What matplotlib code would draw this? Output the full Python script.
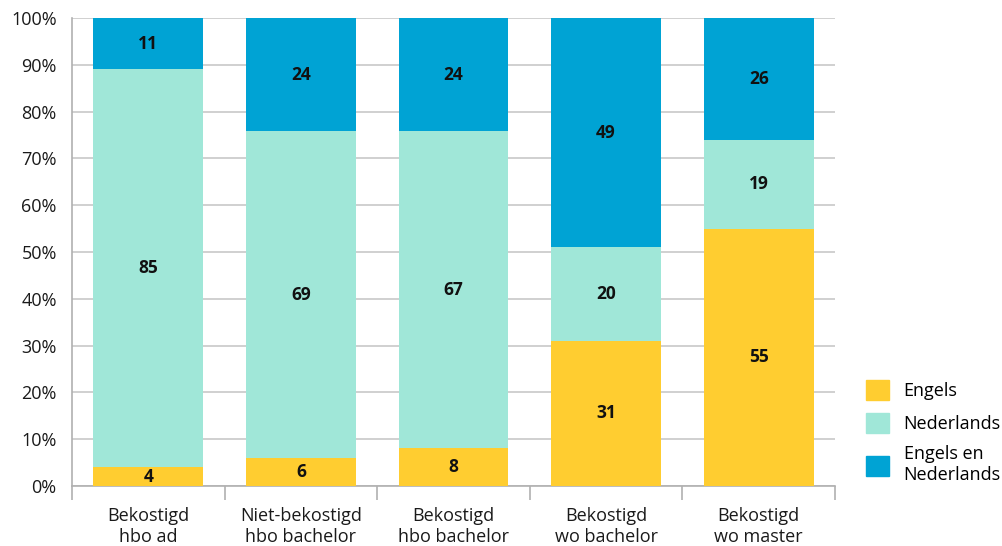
import numpy as np
import matplotlib.pyplot as plt
from matplotlib.patches import Patch

plt.rcParams['font.family'] = ['Open Sans', 'DejaVu Sans']

# data
categories = ['Bekostigd\nhbo ad', 'Niet-bekostigd\nhbo bachelor', 'Bekostigd\nhbo bachelor',
              'Bekostigd\nwo bachelor', 'Bekostigd\nwo master']
engels = np.array([4, 6, 8, 31, 55])
nederlands = np.array([85, 69, 67, 20, 19])
beide = np.array([11, 24, 24, 49, 26])
series_names = ['Engels', 'Nederlands', 'Engels en\nNederlands']
colors = ['#FFCD30', '#A0E7D8', '#00A3D4']

totals = engels + nederlands + beide
series = [engels, nederlands, beide]

fig = plt.figure(figsize=(10.03, 5.46), dpi=100)
ax = fig.add_axes([0.0718, 0.1099, 0.7607, 0.8571])

x = np.arange(len(categories))
bottom = np.zeros(len(categories))
for vals, col in zip(series, colors):
    h = vals / totals * 100
    ax.bar(x, h, bottom=bottom, width=0.72, color=col, zorder=3)
    for xi, b, hh, v in zip(x, bottom, h, vals):
        ax.text(xi, b + hh / 2, str(v), ha='center', va='center',
                fontsize=12.5, fontweight='bold', color='#111111', zorder=4)
    bottom += h

ax.set_xlim(-0.5, len(categories) - 0.5)
ax.set_ylim(0, 100)
ax.set_yticks(np.arange(0, 101, 10))
ax.set_yticklabels([f'{v}%' for v in range(0, 101, 10)], fontsize=13, color='#1a1a1a')
ax.yaxis.grid(True, color='#c8c8c8', linewidth=1.2, zorder=0)
ax.tick_params(axis='y', length=0, pad=11)

ax.set_xticks(x)
ax.set_xticklabels(categories, fontsize=13, color='#1a1a1a', linespacing=1.2)
ax.tick_params(axis='x', which='major', length=0, pad=15)
ax.set_xticks(np.arange(-0.5, len(categories), 1), minor=True)
ax.tick_params(axis='x', which='minor', length=10, width=1.2, color='#b0b0b0')

for s in ['top', 'right']:
    ax.spines[s].set_visible(False)
for s in ['left', 'bottom']:
    ax.spines[s].set_color('#b0b0b0')
    ax.spines[s].set_linewidth(1.2)

handles = [Patch(color=c) for c in colors]
fig.legend(handles, series_names, loc='lower left', bbox_to_anchor=(0.856, 0.1),
           frameon=False, fontsize=13, handlelength=1.3, handleheight=1.3,
           labelspacing=0.7, handletextpad=0.8, borderaxespad=0)

fig.savefig('out.png', dpi=100)
